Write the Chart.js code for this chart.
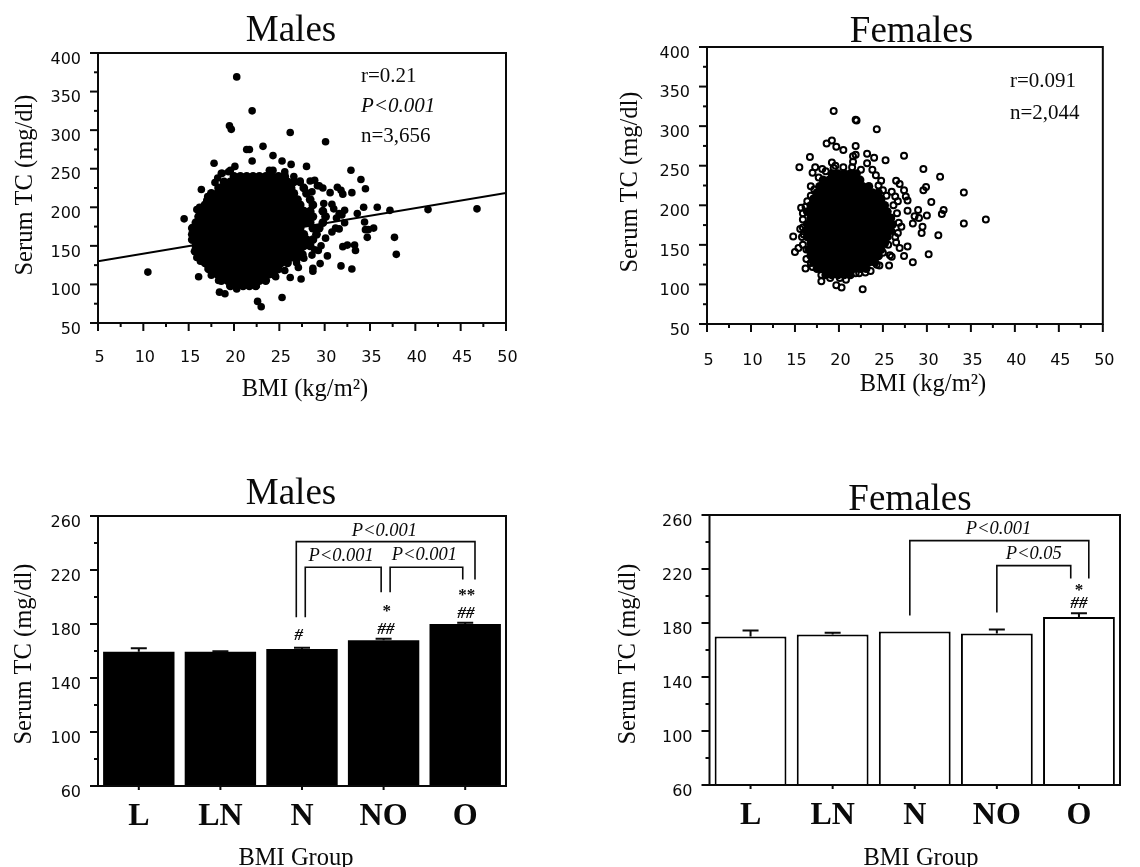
<!DOCTYPE html>
<html>
<head>
<meta charset="utf-8">
<title>Serum TC and BMI</title>
<script src="https://cdn.jsdelivr.net/npm/chart.js@4"></script>
<style>
  html, body { margin: 0; padding: 0; background: #fff; width: 1140px; height: 867px; overflow: hidden; }
  canvas { position: absolute; }
</style>
</head>
<body>
<canvas id="malesScatter" style="left:0;top:0" width="570" height="430"></canvas>
<canvas id="femalesScatter" style="left:570px;top:0" width="570" height="430"></canvas>
<canvas id="malesBars" style="left:0;top:440px" width="570" height="427"></canvas>
<canvas id="femalesBars" style="left:570px;top:440px" width="570" height="427"></canvas>
<script>
// ---- data ----
const groups = ["L", "LN", "N", "NO", "O"];
const malesMean = [159.5, 159.5, 161.5, 168, 180];
const malesErr = [2.5, 0.3, 1, 1, 1];
const femalesMean = [170, 171.5, 173.7, 172.2, 184.5];
const femalesErr = [4.5, 1.2, 0, 3, 2.7];

const regressionBmi = [5, 50];
const regressionTc = [130, 218.5];

// single points around the male cloud
const malesOuterBmi = [20.3, 22, 19.5, 19.7, 26.2, 30.1, 23.2, 21.4, 21.7, 24.3, 22, 25.3, 26.3, 17.8, 20.1, 28, 32.9, 34, 34.5, 33, 30.6, 31.4, 31.8, 32, 30.8, 35.8, 37.2, 41.4, 46.8, 34.3, 37.7, 37.9, 35.4, 34.7, 34.8, 34.5, 34.4, 33.4, 33.3, 32.5, 32, 31.8, 33, 30.3, 29.5, 28.7, 28.7, 27.4, 26.2, 27.1, 25.3, 22.6, 23, 19, 18.4, 10.5, 14.5, 16.2, 16.1, 17.5, 16.4, 17, 18.6, 19.4, 24.3, 25.6, 27.3, 28.9, 29.4, 33.6, 31.6, 32.2, 31.2, 28.9, 29.3, 27.6,
  16.2, 16.6, 15.9, 17.1, 17.9, 18.2, 18.7, 19.6, 23.9, 25.5, 26.6, 27.3, 28.4, 29.2, 29.8, 28.6, 29.9, 31, 31.9, 31.3, 32.2, 31.6, 30.8, 30.1, 29.6, 28.6, 27.7, 26.9, 25.6, 24.6, 23.4, 22.4, 20.3, 17.1, 16.3, 15.9, 18, 18.3];
const malesOuterTc = [369, 325, 305.6, 301, 297, 285, 279, 275, 275, 267, 260, 260, 255.6, 257, 253, 253, 248, 236, 224, 219, 219, 226, 222, 217, 204, 200, 196, 197, 198, 200, 161, 139, 173, 161, 171, 171, 181, 144, 151, 151, 149, 124, 120, 137, 127, 121, 117, 107, 109, 122, 83, 78, 71, 88, 90, 116, 185, 149, 110, 112, 223, 209, 244, 246, 248, 246, 234, 235, 228, 192, 192, 196, 173, 145, 144, 139,
  200, 197, 197, 214, 232, 238, 244, 248, 248, 240, 240, 232, 234, 228, 225, 220, 205, 198, 190, 186, 180, 172, 168, 160, 150, 138, 134, 128, 118, 110, 108, 98, 94, 125, 130, 135, 118, 105];

// dense part of the male cloud, one list of BMI values per TC row
const malesCloudTc = [98, 105, 113, 120, 128, 135, 143, 150, 158, 165, 173, 180, 188, 195, 203, 210, 218, 225, 233, 240];
const malesCloudBmi = [
  [19.6, 20.3, 21, 21.7, 22.4],
  [18.6, 19.3, 20, 20.7, 21.4, 22.1, 22.8, 23.5],
  [18.2, 18.9, 19.6, 20.3, 21, 21.7, 22.4, 23.1, 23.8, 24.4],
  [17.2, 17.9, 18.6, 19.3, 20, 20.7, 21.4, 22.1, 22.8, 23.5, 24.2, 24.9],
  [16.8, 17.5, 18.2, 18.9, 19.6, 20.3, 21, 21.7, 22.4, 23.1, 23.8, 24.5, 25.2, 25.9],
  [16.5, 17.2, 17.9, 18.6, 19.3, 20, 20.7, 21.4, 22.1, 22.8, 23.5, 24.2, 24.9, 25.6, 26.3, 27],
  [15.7, 16.1, 16.8, 17.5, 18.2, 18.9, 19.6, 20.3, 21, 21.7, 22.4, 23.1, 23.8, 24.5, 25.2, 25.9, 26.6, 27.3],
  [15.8, 16.5, 17.2, 17.9, 18.6, 19.3, 20, 20.7, 21.4, 22.1, 22.8, 23.5, 24.2, 24.9, 25.6, 26.3, 27, 27.7, 28.4],
  [15.4, 16.1, 16.8, 17.5, 18.2, 18.9, 19.6, 20.3, 21, 21.7, 22.4, 23.1, 23.8, 24.5, 25.2, 25.9, 26.6, 27.3, 28, 28.7],
  [15.4, 15.8, 16.5, 17.2, 17.9, 18.6, 19.3, 20, 20.7, 21.4, 22.1, 22.8, 23.5, 24.2, 24.9, 25.6, 26.3, 27, 27.7, 29.1],
  [15.4, 16.1, 16.8, 17.5, 18.2, 18.9, 19.6, 20.3, 21, 21.7, 22.4, 23.1, 23.8, 24.5, 25.2, 25.9, 26.6, 27.3, 28.7, 29.4],
  [15.8, 16.5, 17.2, 17.9, 18.6, 19.3, 20, 20.7, 21.4, 22.1, 22.8, 23.5, 24.2, 24.9, 25.6, 26.3, 27, 27.7, 28.4, 29.8],
  [16.1, 16.8, 17.5, 18.2, 18.9, 19.6, 20.3, 21, 21.7, 22.4, 23.1, 23.8, 24.5, 25.2, 25.9, 26.6, 27.3, 28, 28.7, 30.1],
  [16.5, 17.2, 17.9, 18.6, 19.3, 20, 20.7, 21.4, 22.1, 22.8, 23.5, 24.2, 24.9, 25.6, 26.3, 27, 27.7, 28.4, 29.8],
  [16.8, 17.5, 18.2, 18.9, 19.6, 20.3, 21, 21.7, 22.4, 23.1, 23.8, 24.5, 25.2, 25.9, 26.6, 27.3, 28.7],
  [17.2, 17.9, 18.6, 19.3, 20, 20.7, 21.4, 22.1, 22.8, 23.5, 24.2, 24.9, 25.6, 26.3, 27, 28.4],
  [17.5, 18.2, 18.9, 19.6, 20.3, 21, 21.7, 22.4, 23.1, 23.8, 24.5, 25.2, 25.9, 26.6, 28],
  [18.3, 18.6, 19.3, 20, 20.7, 21.4, 22.1, 22.8, 23.5, 24.2, 24.9, 25.6, 26.3, 27.7],
  [18.9, 19.6, 20.3, 21, 21.7, 22.4, 23.1, 23.8, 24.5, 25.2, 25.9, 26.6],
  [20, 20.7, 21.4, 22.1, 22.8, 23.5, 24.2, 24.9, 25.6]
];

// open circles around the female cloud
const femalesOuterBmi = [19.4, 21.9, 22, 24.3, 19.2, 18.6, 19.7, 20.5, 21.9, 16.7, 21.9, 21.6, 23.2, 24, 25.3, 27.4, 15.5, 19.2, 19.4, 17.3, 18.1, 17, 21.6, 23.2, 23.8, 24.2, 24.8, 26.5, 26.9, 27.4, 27.6, 27.8, 25, 26, 26.4, 26.7, 29.6, 31.5, 29.9, 29.6, 30.5, 34.2, 31.9, 31.7, 34.2, 36.7, 31.3, 30.2, 28.4, 27.4, 27.8, 26.9, 26.5, 25.8, 26, 25.7, 24.6, 22.7, 20.3, 19.7, 18, 20.8, 20.1, 16.2, 16.8, 15, 14.8, 15.4, 15.6, 15.9, 15.7, 16, 16.3, 16.8, 27.8, 29, 30, 28.4, 29.5, 29.4, 28.6, 29.1, 27.1, 26.7, 21.9, 22.3, 23.6,
  16.2, 16.4, 16.8, 17.2, 17.7, 18.5, 19.6, 20.5, 21.5, 22.5, 24.5, 25.4, 26.2, 26.6, 26.8, 26.4, 25.6, 25, 24.3, 23, 19, 18, 17, 16.3, 15.9, 15.8, 15.9, 15.9];
const femalesOuterTc = [319, 308, 307, 296, 282, 278, 274, 270, 275, 261, 264, 262, 265, 260, 257, 262.6, 248, 254, 247, 248, 246, 241, 255, 253, 245, 238, 231, 231, 227, 219, 211, 206, 219, 217, 211, 205, 246, 236, 223, 219, 204, 216, 194, 189, 177, 182, 162, 138, 128, 136, 148, 146, 153, 137, 135, 124, 124, 94, 96, 99, 104, 106, 108, 120, 127, 141, 160.5, 146, 170, 182, 197, 163, 144, 224, 193, 194, 187, 177, 173, 165, 186, 184, 173, 165, 114, 114, 117,
  198, 205, 212, 220, 235, 243, 250, 248, 248, 245, 225, 212, 200, 190, 178, 160, 150, 140, 125, 115, 108, 112, 122, 132, 150, 160, 172, 190];

// overlapping circles of the female cloud read as solid, one BMI list per TC row
const femalesCloudTc = [112, 120, 128, 136, 144, 152, 160, 168, 176, 184, 192, 200, 208, 216, 224, 232, 240];
const femalesCloudBmi = [
  [18.5, 19.2, 19.9, 20.6, 21.3],
  [17.5, 18.2, 18.9, 19.6, 20.3, 21, 21.7, 22.4, 23.1],
  [17.1, 17.8, 18.5, 19.2, 19.9, 20.6, 21.3, 22, 22.7, 23.4, 24.1],
  [16.8, 17.5, 18.2, 18.9, 19.6, 20.3, 21, 21.7, 22.4, 23.1, 23.8, 24.5],
  [16.6, 17.1, 17.8, 18.5, 19.2, 19.9, 20.6, 21.3, 22, 22.7, 23.4, 24.1, 24.8],
  [16.8, 17.5, 18.2, 18.9, 19.6, 20.3, 21, 21.7, 22.4, 23.1, 23.8, 24.5, 25.2],
  [16.4, 17.1, 17.8, 18.5, 19.2, 19.9, 20.6, 21.3, 22, 22.7, 23.4, 24.1, 24.8, 25.5],
  [16.3, 16.8, 17.5, 18.2, 18.9, 19.6, 20.3, 21, 21.7, 22.4, 23.1, 23.8, 24.5, 25.2, 25.9],
  [16.4, 17.1, 17.8, 18.5, 19.2, 19.9, 20.6, 21.3, 22, 22.7, 23.4, 24.1, 24.8, 25.5, 26.1],
  [16.8, 17.5, 18.2, 18.9, 19.6, 20.3, 21, 21.7, 22.4, 23.1, 23.8, 24.5, 25.2, 25.9],
  [16.4, 17.1, 17.8, 18.5, 19.2, 19.9, 20.6, 21.3, 22, 22.7, 23.4, 24.1, 24.8, 25.5],
  [16.8, 17.5, 18.2, 18.9, 19.6, 20.3, 21, 21.7, 22.4, 23.1, 23.8, 24.5, 25.2],
  [17.1, 17.8, 18.5, 19.2, 19.9, 20.6, 21.3, 22, 22.7, 23.4, 24.1, 24.8],
  [17.5, 18.2, 18.9, 19.6, 20.3, 21, 21.7, 22.4, 23.1, 23.8, 24.5],
  [17.8, 18.5, 19.2, 19.9, 20.6, 21.3, 22, 22.7, 23.4],
  [18.2, 18.9, 19.6, 20.3, 21, 21.7, 22.4],
  [19.2, 19.9, 20.6, 21.3, 22]
];

// ---- layout and styling ----
const SERIF = '"Liberation Serif", serif';
const SANS = '"DejaVu Sans", sans-serif';
const INK = "#0a0a0a";

function pairs(xs, ys) {
    return xs.map((x, i) => ({ x: x, y: ys[i] }));
}
function rows(tcs, bmis) {
    return tcs.flatMap((tc, i) => bmis[i].map(b => ({ x: b, y: tc })));
}

// frame, tick marks, error bars, brackets and free text
const overlay = {
    id: "overlay",
    afterDatasetsDraw(chart, args, o) {
        const ctx = chart.ctx, a = chart.chartArea;
        const xs = chart.scales.x, ys = chart.scales.y;
        ctx.save();
        ctx.strokeStyle = INK;
        ctx.fillStyle = INK;

        ctx.lineWidth = 2;
        ctx.strokeRect(a.left, a.top, a.right - a.left, a.bottom - a.top);

        ys.ticks.forEach((t, i) => {
            const y = ys.getPixelForTick(i);
            const len = t.label ? 8 : 4;
            ctx.beginPath();
            ctx.moveTo(a.left - len, y);
            ctx.lineTo(a.left, y);
            ctx.stroke();
        });
        xs.ticks.forEach((t, i) => {
            const x = xs.getPixelForTick(i);
            const len = o.bars ? 4 : (t.label ? 8 : 4);
            ctx.beginPath();
            ctx.moveTo(x, a.bottom);
            ctx.lineTo(x, a.bottom + len);
            ctx.stroke();
        });

        if (o.errors) {
            const half = 8;
            o.errors.forEach((e, i) => {
                if (!e) return;
                const x = xs.getPixelForValue(i);
                const y0 = ys.getPixelForValue(o.means[i]);
                const y1 = ys.getPixelForValue(o.means[i] + e);
                ctx.beginPath();
                ctx.moveTo(x, y0);
                ctx.lineTo(x, y1);
                ctx.moveTo(x - half, y1);
                ctx.lineTo(x + half, y1);
                ctx.stroke();
            });
        }

        // brackets are [category position, serum TC] paths
        ctx.lineWidth = 1.6;
        (o.brackets || []).forEach(path => {
            ctx.beginPath();
            path.forEach((p, i) => {
                const x = xs.getPixelForValue(0) + p[0] * (xs.getPixelForValue(1) - xs.getPixelForValue(0));
                const y = ys.getPixelForValue(p[1]);
                if (i) ctx.lineTo(x, y); else ctx.moveTo(x, y);
            });
            ctx.stroke();
        });
        ctx.textBaseline = "middle";
        ctx.textAlign = "center";
        (o.marks || []).forEach(m => {
            const x = xs.getPixelForValue(0) + m[1] * (xs.getPixelForValue(1) - xs.getPixelForValue(0));
            ctx.font = m[3];
            ctx.fillText(m[0], x, ys.getPixelForValue(m[2]));
        });

        (o.texts || []).forEach(t => {
            ctx.font = t.font;
            ctx.textAlign = t.align || "center";
            ctx.save();
            ctx.translate(t.x, t.y);
            if (t.rot) ctx.rotate(-Math.PI / 2);
            ctx.fillText(t.text, 0, 0);
            ctx.restore();
        });
        ctx.restore();
    }
};

function baseOptions(p) {
    return {
        responsive: false,
        animation: false,
        events: [],
        layout: { padding: { top: p.top, right: p.w - p.right } },
        plugins: { legend: { display: false }, tooltip: { enabled: false }, overlay: p.overlay },
    };
}

function scatterChart(id, p, datasets) {
    const options = baseOptions(p);
    options.scales = {
        x: {
            type: "linear", min: 5, max: 50,
            grid: { display: false, drawTicks: false }, border: { display: false },
            afterFit: s => { s.height = p.h - p.bottom; },
            ticks: {
                stepSize: 2.5, autoSkip: false, maxRotation: 0, padding: p.xPad, labelOffset: 1.5,
                color: INK, font: { family: SANS, size: 16 },
                callback: v => v % 5 === 0 ? String(v) : "",
            },
        },
        y: {
            min: 50, max: 400,
            grid: { display: false, drawTicks: false }, border: { display: false },
            afterFit: s => { s.width = p.left; },
            ticks: {
                stepSize: 25, autoSkip: false, padding: 17, labelOffset: 6.5,
                color: INK, font: { family: SANS, size: 16 },
                callback: v => v % 50 === 0 ? String(v) : "",
            },
        },
    };
    return new Chart(id, { type: "scatter", data: { datasets: datasets }, options: options, plugins: [overlay] });
}

function barChart(id, p, means, filled) {
    const options = baseOptions(p);
    options.scales = {
        x: {
            type: "category",
            grid: { display: false, drawTicks: false }, border: { display: false },
            afterFit: s => { s.height = p.h - p.bottom; },
            ticks: {
                padding: 12, maxRotation: 0, autoSkip: false,
                color: INK, font: { family: SERIF, size: 32, weight: "bold" },
            },
        },
        y: {
            min: 60, max: 260,
            grid: { display: false, drawTicks: false }, border: { display: false },
            afterFit: s => { s.width = p.left; },
            ticks: {
                stepSize: 20, autoSkip: false, padding: 17, labelOffset: 6.5,
                color: INK, font: { family: SANS, size: 16 },
                callback: v => (v - 60) % 40 === 0 ? String(v) : "",
            },
        },
    };
    return new Chart(id, {
        type: "bar",
        data: {
            labels: groups,
            datasets: [{
                data: means,
                backgroundColor: filled ? "#000" : "#fff",
                borderColor: "#000",
                borderWidth: filled ? 0 : 2,
                borderSkipped: false,
                barPercentage: 0.875,
                categoryPercentage: 1,
            }],
        },
        options: options,
        plugins: [overlay],
    });
}

const TITLE = '37px ' + SERIF;
const AXIS = '24.5px ' + SERIF;
const NOTE = '21px ' + SERIF;
const NOTE_I = 'italic 21px ' + SERIF;
const P_FONT = 'italic 18.5px ' + SERIF;
const SIG = 'bold italic 17px ' + SERIF;
const STAR = 'bold 17px ' + SERIF;

scatterChart("malesScatter", {
    left: 98, right: 506, top: 53, bottom: 323, w: 570, h: 430, xPad: 25,
    overlay: { texts: [
        { text: "Males", x: 291, y: 31, font: TITLE },
        { text: "Serum TC (mg/dl)", x: 26, y: 185, font: AXIS, rot: true },
        { text: "BMI (kg/m²)", x: 305, y: 390, font: AXIS },
        { text: "r=0.21", x: 361, y: 76, font: NOTE, align: "left" },
        { text: "P<0.001", x: 361, y: 106, font: NOTE_I, align: "left" },
        { text: "n=3,656", x: 361, y: 136, font: NOTE, align: "left" },
    ] },
}, [
    { data: pairs(regressionBmi, regressionTc), showLine: true, pointRadius: 0, borderColor: "#000", borderWidth: 2 },
    { data: rows(malesCloudTc, malesCloudBmi), pointRadius: 4.4, backgroundColor: "#000", borderWidth: 0 },
    { data: pairs(malesOuterBmi, malesOuterTc), pointRadius: 3.8, backgroundColor: "#000", borderWidth: 0 },
]);

scatterChart("femalesScatter", {
    left: 137, right: 557, top: 47, bottom: 324, w: 570, h: 430, xPad: 27,
    overlay: { texts: [
        { text: "Females", x: 341.5, y: 32, font: TITLE },
        { text: "Serum TC (mg/dl)", x: 61, y: 182, font: AXIS, rot: true },
        { text: "BMI (kg/m²)", x: 353, y: 385, font: AXIS },
        { text: "r=0.091", x: 440, y: 81, font: NOTE, align: "left" },
        { text: "n=2,044", x: 440, y: 113, font: NOTE, align: "left" },
    ] },
}, [
    { data: rows(femalesCloudTc, femalesCloudBmi), pointRadius: 4.4, backgroundColor: "#000", borderWidth: 0 },
    { data: pairs(femalesOuterBmi, femalesOuterTc), pointRadius: 3, backgroundColor: "transparent", borderColor: "#000", borderWidth: 2 },
]);

barChart("malesBars", {
    left: 98, right: 506, top: 76, bottom: 346, w: 570, h: 427,
    overlay: {
        means: malesMean, errors: malesErr, bars: true,
        brackets: [
            [[1.93, 185], [1.93, 241], [4.12, 241], [4.12, 213]],
            [[2.04, 185], [2.04, 222], [2.97, 222], [2.97, 203.5]],
            [[3.08, 203.5], [3.08, 222], [3.97, 222], [3.97, 213]],
        ],
        marks: [
            ["P<0.001", 3.01, 249, P_FONT],
            ["P<0.001", 2.48, 230.4, P_FONT],
            ["P<0.001", 3.5, 231, P_FONT],
            ["#", 1.96, 171.4, SIG],
            ["##", 3.03, 176, SIG],
            ["*", 3.04, 189, STAR],
            ["##", 4.01, 188, SIG],
            ["**", 4.02, 201, STAR],
        ],
        texts: [
            { text: "Males", x: 291, y: 54, font: TITLE },
            { text: "Serum TC (mg/dl)", x: 25, y: 214, font: AXIS, rot: true },
            { text: "BMI Group", x: 296, y: 419, font: AXIS },
        ],
    },
}, malesMean, true);

barChart("femalesBars", {
    left: 139.5, right: 550, top: 75, bottom: 345, w: 570, h: 427,
    overlay: {
        means: femalesMean, errors: femalesErr, bars: true,
        brackets: [
            [[1.94, 185.5], [1.94, 241], [4.12, 241], [4.12, 213]],
            [[3, 187.7], [3, 222.5], [3.9, 222.5], [3.9, 213]],
        ],
        marks: [
            ["P<0.001", 3.02, 249.4, P_FONT],
            ["P<0.05", 3.45, 231, P_FONT],
            ["*", 4, 204, STAR],
            ["##", 4, 194.6, SIG],
        ],
        texts: [
            { text: "Females", x: 340, y: 60, font: TITLE },
            { text: "Serum TC (mg/dl)", x: 59, y: 214, font: AXIS, rot: true },
            { text: "BMI Group", x: 351, y: 419, font: AXIS },
        ],
    },
}, femalesMean, false);
</script>
</body>
</html>
